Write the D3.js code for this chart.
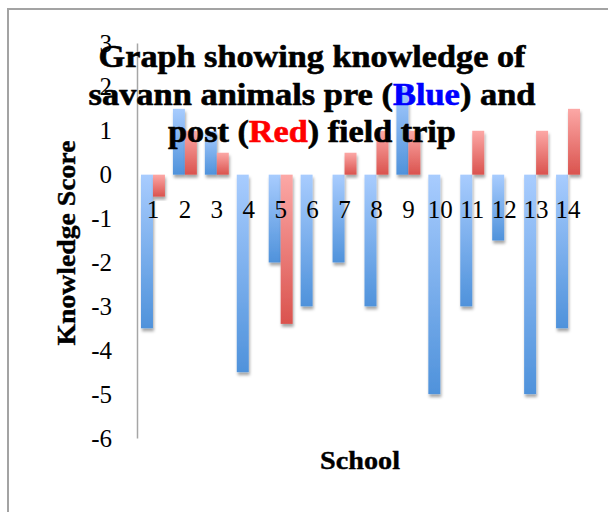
<!DOCTYPE html>
<html>
<head>
<meta charset="utf-8">
<script src="https://cdn.jsdelivr.net/npm/d3@7"></script>
<style>
  html, body { margin: 0; padding: 0; background: #fff; }
  svg { display: block; }
</style>
</head>
<body>
<svg id="chart" width="608" height="512"></svg>
<script>
const schools = ["1","2","3","4","5","6","7","8","9","10","11","12","13","14"];
const preScores  = [-3.5, 1.5, 1, -4.5, -2, -3, -2, -3, 2, -5, -3, -1.5, -5, -3.5];
const postScores = [-0.5, 1, 0.5, 0, -3.4, 0, 0.5, 1, 1, 0, 1, 0, 1, 1.5];
const yTicks = [3, 2, 1, 0, -1, -2, -3, -4, -5, -6];
const titleLines = [
  [{t: "Graph showing knowledge of", c: "#000"}],
  [{t: "savann animals pre (", c: "#000"}, {t: "Blue", c: "#0000ff"}, {t: ") and", c: "#000"}],
  [{t: "post (", c: "#000"}, {t: "Red", c: "#ff0000"}, {t: ") field trip", c: "#000"}]
];
const xTitle = "School";
const yTitle = "Knowledge Score";

const svg = d3.select("#chart");
const W = 608, H = 512;
const plot = {left: 137, right: 584, top: 43, bottom: 438};
const serif = "'Liberation Serif', serif";

const defs = svg.append("defs");
const shadow = defs.append("filter").attr("id", "shadow")
  .attr("x", "-50%").attr("y", "-10%").attr("width", "200%").attr("height", "130%");
shadow.append("feDropShadow").attr("dx", 1).attr("dy", 3)
  .attr("stdDeviation", 1.6).attr("flood-color", "#000").attr("flood-opacity", 0.35);

function grad(id, top, bottom) {
  const g = defs.append("linearGradient").attr("id", id)
    .attr("x1", 0).attr("y1", 0).attr("x2", 0).attr("y2", 1);
  g.append("stop").attr("offset", "0%").attr("stop-color", top);
  g.append("stop").attr("offset", "100%").attr("stop-color", bottom);
}
grad("gBlue", "#a8ccfe", "#4f92db");
grad("gRed", "#fca8a6", "#da534e");

// chart frame
svg.append("path")
  .attr("d", `M8,${H} L8,9 L${W},9`)
  .attr("fill", "none").attr("stroke", "#a3a3a3").attr("stroke-width", 2);

const x = d3.scaleBand().domain(schools).range([plot.left, plot.right])
  .paddingInner(0.25).paddingOuter(0.125);
const x1 = d3.scaleBand().domain(["pre", "post"]).range([0, x.bandwidth()]);
const y = d3.scaleLinear().domain([-6, 3]).range([plot.bottom, plot.top]);

// y axis
const yAxis = svg.append("g").attr("transform", `translate(${plot.left},0)`)
  .call(d3.axisLeft(y).tickValues(yTicks).tickSize(0).tickSizeOuter(0).tickPadding(25)
    .tickFormat(d => String(d)));
yAxis.attr("font-family", serif).attr("font-size", 25);
yAxis.select(".domain").attr("stroke", "#a6a6a6").attr("stroke-width", 1.5);
yAxis.selectAll("text").attr("fill", "#000");

// bars
const data = schools.map((s, i) => ({s, pre: preScores[i], post: postScores[i]}));
const groups = svg.append("g").selectAll("g").data(data).join("g")
  .attr("transform", d => `translate(${x(d.s)},0)`);
groups.selectAll("rect")
  .data(d => [{k: "pre", v: d.pre}, {k: "post", v: d.post}].filter(e => e.v !== 0))
  .join("rect")
  .attr("x", e => x1(e.k))
  .attr("width", x1.bandwidth())
  .attr("y", e => y(Math.max(0, e.v)))
  .attr("height", e => Math.abs(y(e.v) - y(0)))
  .attr("fill", e => e.k === "pre" ? "url(#gBlue)" : "url(#gRed)")
  .attr("filter", "url(#shadow)");

// x axis
const xAxis = svg.append("g").attr("transform", `translate(0,${y(0)})`)
  .call(d3.axisBottom(x).tickSize(0).tickSizeOuter(0).tickPadding(26));
xAxis.attr("font-family", serif).attr("font-size", 25);
xAxis.select(".domain").attr("stroke", "#a6a6a6").attr("stroke-width", 1.5)
  .attr("filter", "url(#shadow)");
xAxis.selectAll("text").attr("fill", "#000");

// fit text to a width by horizontal scaling
function fitText(sel, cx, baseline, width) {
  const w = sel.node().getComputedTextLength();
  sel.attr("text-anchor", "middle")
    .attr("transform", `translate(${cx},${baseline}) scale(${width / w},1)`);
}

// title
const titleW = [427, 447, 288];
const titleBase = [67, 105, 142];
titleLines.forEach((line, i) => {
  const t = svg.append("text").attr("font-family", serif).attr("font-weight", "bold")
    .attr("font-size", 31).attr("fill", "#000");
  line.forEach(p => t.append("tspan").text(p.t).attr("fill", p.c)
    .attr("stroke", p.c).attr("stroke-width", 0.6));
  fitText(t, 312, titleBase[i], titleW[i]);
});

// axis titles
const xt = svg.append("text").text(xTitle).attr("font-family", serif)
  .attr("font-weight", "bold").attr("font-size", 26).attr("fill", "#000")
  .attr("stroke", "#000").attr("stroke-width", 0.4);
fitText(xt, 360, 469, 80);

const yt = svg.append("text").text(yTitle).attr("font-family", serif)
  .attr("font-weight", "bold").attr("font-size", 26).attr("fill", "#000")
  .attr("stroke", "#000").attr("stroke-width", 0.4);
{
  const w = yt.node().getComputedTextLength();
  yt.attr("text-anchor", "middle")
    .attr("transform", `translate(75,243) rotate(-90) scale(${205 / w},1)`);
}
</script>
</body>
</html>
